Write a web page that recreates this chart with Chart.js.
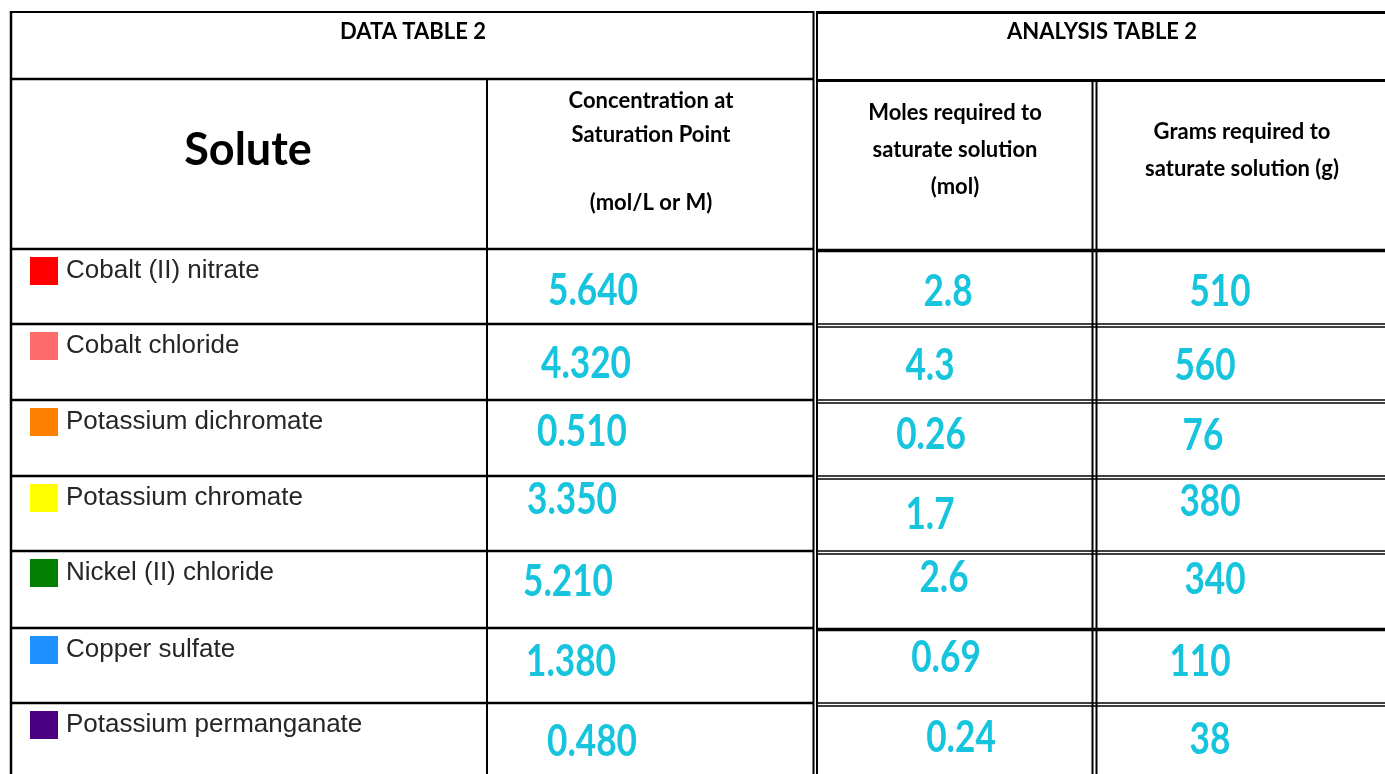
<!DOCTYPE html>
<html>
<head>
<meta charset="utf-8">
<script src="https://cdn.jsdelivr.net/npm/chart.js@4.4.0/dist/chart.umd.min.js"></script>
<style>
  html, body { margin: 0; padding: 0; background: #fff; }
  #wrap { width: 1385px; height: 774px; position: relative; }
</style>
</head>
<body>
<div id="wrap"><canvas id="table"></canvas></div>
<script>
// data
const solutes = [
  "Cobalt (II) nitrate",
  "Cobalt chloride",
  "Potassium dichromate",
  "Potassium chromate",
  "Nickel (II) chloride",
  "Copper sulfate",
  "Potassium permanganate",
];
const swatchColors = ["#ff0000", "#ff6b6b", "#ff7f00", "#ffff00", "#007f00", "#1e90ff", "#4b0082"];
const concentration = ["5.640", "4.320", "0.510", "3.350", "5.210", "1.380", "0.480"];
const moles = ["2.8", "4.3", "0.26", "1.7", "2.6", "0.69", "0.24"];
const grams = ["510", "560", "76", "380", "340", "110", "38"];

const titleLeft = "DATA TABLE 2";
const titleRight = "ANALYSIS TABLE 2";
const headSolute = "Solute";
const headConc = ["Concentration at", "Saturation Point", "", "(mol/L or M)"];
const headMoles = ["Moles required to", "saturate solution", "(mol)"];
const headGrams = ["Grams required to", "saturate solution (g)"];

// layout (page pixels, mapped through the scales)
const rowTops = [249, 324, 400, 476, 551, 628, 703];
// handwritten value anchors: x centre, y centre per row
const concX = [593, 586, 582, 572, 568, 571, 592];
const concY = [291, 364, 432, 500, 582, 662, 742];
const molX = [948, 930, 931, 930, 944, 946, 961];
const molY = [292, 366, 435, 515, 578, 658, 738];
const grX = [1220, 1205, 1203, 1210, 1215, 1200, 1210];
const grY = [292, 366, 436, 502, 580, 662, 740];

const HAND = "#17c4de";

const tablePlugin = {
  id: "tablePlugin",
  afterDraw(chart) {
    const ctx = chart.ctx;
    const sx = chart.scales.x, sy = chart.scales.y;
    const X = (v) => sx.getPixelForValue(v);
    const Y = (v) => sy.getPixelForValue(v);

    const hline = (x1, x2, y, w) => {
      ctx.beginPath();
      ctx.lineWidth = w;
      ctx.moveTo(X(x1), Y(y));
      ctx.lineTo(X(x2), Y(y));
      ctx.stroke();
    };
    const vline = (x, y1, y2, w) => {
      ctx.beginPath();
      ctx.lineWidth = w;
      ctx.moveTo(X(x), Y(y1));
      ctx.lineTo(X(x), Y(y2));
      ctx.stroke();
    };

    ctx.save();
    ctx.strokeStyle = "#000";

    // outer frame
    hline(10, 813, 12, 2);
    hline(816, 1385, 12.5, 3);
    vline(11, 11, 774, 2.5);

    // data table
    hline(10, 813, 79, 2.5);
    vline(487, 79, 774, 2);
    rowTops.forEach((t) => hline(10, 813, t, 2.5));

    // separator between tables (double)
    vline(813.5, 11, 774, 2);
    vline(817, 11, 774, 2);

    // analysis table
    hline(817, 1385, 80.5, 3);
    vline(1092.5, 80, 774, 2);
    vline(1096.5, 80, 774, 2);
    rowTops.forEach((t, i) => {
      if (i === 0 || i === 5) {
        hline(817, 1385, t + 1.5, 3.5);
      } else {
        hline(817, 1385, t, 1.5);
        hline(817, 1385, t + 3, 1.5);
      }
    });

    // header text
    ctx.fillStyle = "#000";
    ctx.textAlign = "center";
    ctx.textBaseline = "middle";
    ctx.font = "bold 22px Lato";
    ctx.fillText(titleLeft, X(413), Y(32));
    ctx.fillText(titleRight, X(1102), Y(32));

    ctx.font = "bold 45px Lato";
    ctx.fillText(headSolute, X(248), Y(150));

    ctx.font = "bold 22px Lato";
    headConc.forEach((s, i) => ctx.fillText(s, X(651), Y(101 + i * 34)));
    headMoles.forEach((s, i) => ctx.fillText(s, X(955), Y(113 + i * 37)));
    headGrams.forEach((s, i) => ctx.fillText(s, X(1242), Y(132 + i * 37)));

    // solute rows
    solutes.forEach((name, i) => {
      const t = rowTops[i];
      ctx.fillStyle = swatchColors[i];
      ctx.fillRect(X(30), Y(t + 8), X(58) - X(30), Y(t + 36) - Y(t + 8));
      ctx.fillStyle = "#262626";
      ctx.textAlign = "left";
      ctx.font = "26px 'Liberation Sans'";
      ctx.fillText(name, X(66), Y(t + 22));
    });

    // handwritten values
    ctx.fillStyle = HAND;
    ctx.textAlign = "center";
    ctx.font = "bold 44px Lato";
    const hand = (txt, x, y) => {
      ctx.save();
      ctx.translate(X(x), Y(y));
      ctx.scale(0.8, 1);
      ctx.fillText(txt, 0, 0);
      ctx.restore();
    };
    concentration.forEach((v, i) => hand(v, concX[i], concY[i]));
    moles.forEach((v, i) => hand(v, molX[i], molY[i]));
    grams.forEach((v, i) => hand(v, grX[i], grY[i]));

    ctx.restore();
  },
};

new Chart(document.getElementById("table"), {
  type: "scatter",
  data: { datasets: [{ data: [], pointRadius: 0 }] },
  options: {
    responsive: true,
    maintainAspectRatio: false,
    animation: false,
    layout: { padding: 0 },
    plugins: { legend: { display: false }, tooltip: { enabled: false } },
    scales: {
      x: { type: "linear", min: 0, max: 1385, display: false },
      y: { type: "linear", min: 0, max: 774, reverse: true, display: false },
    },
  },
  plugins: [tablePlugin],
});
</script>
</body>
</html>
